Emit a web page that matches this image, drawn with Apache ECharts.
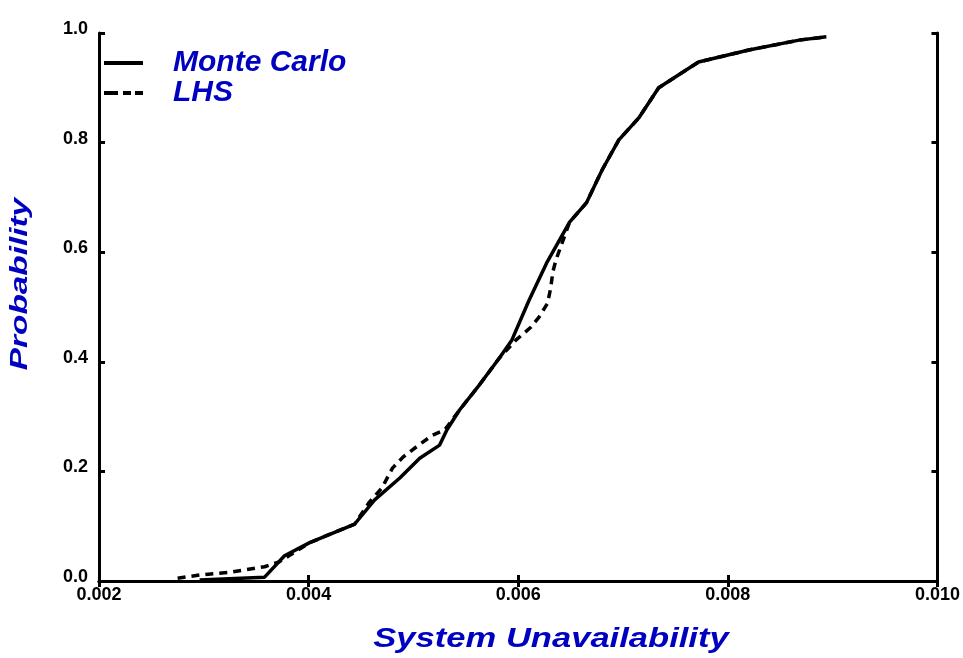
<!DOCTYPE html>
<html>
<head>
<meta charset="utf-8">
<script src="https://cdn.jsdelivr.net/npm/echarts@6/dist/echarts.min.js"></script>
<style>
  html, body { margin: 0; padding: 0; background: #fff; }
  #chart { width: 963px; height: 658px; }
</style>
</head>
<body>
<div id="chart"></div>
<script>
// x ticks / y ticks
const xTicks = [0.002, 0.004, 0.006, 0.008, 0.010]
const yTicks = [0.0, 0.2, 0.4, 0.6, 0.8, 1.0]

// Monte Carlo (solid)
const mcX = [0.00296, 0.00358, 0.00377, 0.00401, 0.00444, 0.00463, 0.00487, 0.00506, 0.00525, 0.00532,
  0.00544, 0.00563, 0.00582, 0.00594, 0.0061, 0.00627, 0.00649, 0.00665, 0.0068, 0.00696,
  0.00715, 0.00734, 0.00772, 0.0082, 0.00868, 0.00894]
const mcY = [0.002, 0.007, 0.046, 0.07, 0.104, 0.148, 0.188, 0.224, 0.248, 0.276,
  0.312, 0.358, 0.407, 0.44, 0.511, 0.58, 0.655, 0.69, 0.75, 0.805,
  0.845, 0.9, 0.947, 0.969, 0.987, 0.993]

// LHS (dashed)
const lhsX = [0.00275, 0.00296, 0.00325, 0.00358, 0.00372, 0.00382, 0.00401, 0.00444, 0.00458, 0.0047,
  0.0048, 0.0049, 0.00503, 0.00518, 0.0053, 0.00544, 0.00563, 0.00582, 0.00598, 0.00612,
  0.0062, 0.00628, 0.00631, 0.00633, 0.00636, 0.00649, 0.00665, 0.0068, 0.00696, 0.00715,
  0.00734, 0.00772, 0.0082, 0.00868, 0.00894]
const lhsY = [0.005, 0.011, 0.016, 0.026, 0.035, 0.047, 0.07, 0.104, 0.144, 0.17,
  0.206, 0.226, 0.245, 0.266, 0.276, 0.312, 0.358, 0.407, 0.44, 0.463,
  0.482, 0.507, 0.535, 0.564, 0.586, 0.655, 0.69, 0.75, 0.805, 0.845,
  0.9, 0.947, 0.969, 0.987, 0.993]

const zip = (xs, ys) => xs.map((x, i) => [x, ys[i]])

const blue = '#0000c0'
const fam = '"Liberation Sans", Arial, sans-serif'

const chart = echarts.init(document.getElementById('chart'))

const axisBase = {
  type: 'value',
  axisLine: { show: true, lineStyle: { color: '#000', width: 3 } },
  axisTick: { show: true, inside: true, length: 6, lineStyle: { color: '#000', width: 3 } },
  splitLine: { show: false },
}

chart.setOption({
  animation: false,
  grid: { left: 99, right: 24, top: 33, bottom: 77 },
  legend: {
    orient: 'vertical',
    left: 104,
    top: 48,
    padding: 0,
    itemWidth: 39,
    itemHeight: 4,
    itemGap: 0,
    textStyle: {
      color: blue,
      fontSize: 30,
      lineHeight: 26,
      fontStyle: 'italic',
      fontWeight: 900,
      fontFamily: fam,
      padding: [0, 0, 0, 25],
    },
    data: [
      { name: 'Monte Carlo', icon: 'path://M0,0h39v4h-39z' },
      { name: 'LHS', icon: 'path://M0,0h14v4h-14zM19,0h8v4h-8zM31,0h8v4h-8z' },
    ],
  },
  xAxis: [
    {
      ...axisBase,
      position: 'bottom',
      min: xTicks[0],
      max: xTicks[xTicks.length - 1],
      interval: 0.002,
      axisLabel: {
        color: '#000', fontSize: 18, fontWeight: 'bold', margin: 5,
        fontFamily: fam,
        formatter: (v) => v.toFixed(3),
      },
    },
    {
      ...axisBase,
      position: 'top',
      min: xTicks[0],
      max: xTicks[xTicks.length - 1],
      interval: 0.002,
      axisLabel: { show: false },
    },
  ],
  yAxis: [
    {
      ...axisBase,
      position: 'left',
      min: yTicks[0],
      max: yTicks[yTicks.length - 1],
      interval: 0.2,
      axisLabel: {
        color: '#000', fontSize: 18, fontWeight: 'bold', margin: 11,
        fontFamily: fam,
        formatter: (v) => v.toFixed(1),
        verticalAlign: 'bottom',
        lineHeight: 8,
      },
    },
    {
      ...axisBase,
      position: 'right',
      min: yTicks[0],
      max: yTicks[yTicks.length - 1],
      interval: 0.2,
      axisLabel: { show: false },
    },
  ],
  graphic: [
    {
      type: 'text',
      x: 551,
      y: 640,
      scaleX: 1.28,
      style: { text: 'System Unavailability', font: 'italic 900 27px ' + fam, fill: blue, align: 'center', verticalAlign: 'middle' },
    },
    {
      type: 'text',
      x: 21,
      y: 284,
      rotation: Math.PI / 2,
      scaleX: 1.45,
      style: { text: 'Probability', font: 'italic 900 23px ' + fam, fill: blue, align: 'center', verticalAlign: 'middle' },
    },
  ],
  series: [
    {
      name: 'Monte Carlo',
      type: 'line',
      data: zip(mcX, mcY),
      showSymbol: false,
      symbol: 'none',
      lineStyle: { color: '#000', width: 3.5 },
      itemStyle: { color: '#000' },
    },
    {
      name: 'LHS',
      type: 'line',
      data: zip(lhsX, lhsY),
      showSymbol: false,
      symbol: 'none',
      lineStyle: { color: '#000', width: 3.5, type: [8, 6] },
      itemStyle: { color: '#000' },
    },
  ],
})
</script>
</body>
</html>
